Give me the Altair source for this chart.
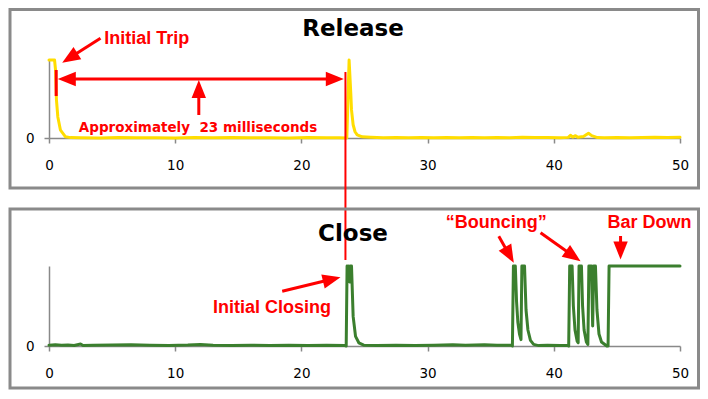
import altair as alt
import pandas as pd

# ---------------- data (time in ms, amplitude relative to the trace's full scale) -------------
release_points = [
    (0.00, 1.00), (0.44, 1.00), (0.52, 0.87), (0.59, 0.49), (0.70, 0.27), (0.91, 0.10),
    (1.31, 0.015), (1.70, 0.005), (2.5, 0.004), (4.0, 0.0), (5.5, 0.005), (7.0, 0.002),
    (8.5, 0.004), (10.0, 0.0), (11.5, 0.005), (13.0, 0.003), (14.5, 0.006), (16.0, 0.002),
    (17.5, 0.004), (19.0, 0.0), (20.5, 0.005), (22.0, 0.003), (23.0, 0.002), (23.60, 0.0),
    (23.78, 1.00), (23.92, 0.55), (23.97, 0.36), (24.10, 0.17), (24.25, 0.08), (24.42, 0.04),
    (24.82, 0.015), (25.5, 0.01), (26.5, 0.003), (27.5, 0.006), (28.5, 0.004), (29.5, 0.008),
    (30.5, 0.003), (31.5, 0.006), (32.5, 0.004), (33.5, 0.007), (34.5, 0.003), (35.5, 0.008),
    (36.5, 0.004), (37.5, 0.009), (38.5, 0.005), (39.5, 0.007), (40.5, 0.004), (41.15, 0.008),
    (41.32, 0.035), (41.50, 0.012), (41.72, 0.03), (41.90, 0.01), (42.35, 0.02), (42.75, 0.06),
    (43.00, 0.03), (43.46, 0.005), (44.0, 0.003), (45.0, 0.006), (46.0, 0.004), (47.0, 0.008),
    (48.0, 0.01), (49.0, 0.006), (50.0, 0.01),
]

close_points = [
    (0.0, 0.01), (0.5, 0.015), (1.0, 0.01), (1.5, 0.012), (2.0, 0.006), (2.5, 0.025),
    (2.7, 0.006), (3.5, 0.01), (5.0, 0.012), (6.5, 0.015), (8.0, 0.01), (9.5, 0.006),
    (11.0, 0.012), (12.0, 0.02), (13.0, 0.01), (14.5, 0.006), (16.0, 0.01), (17.5, 0.006),
    (19.0, 0.01), (20.5, 0.006), (22.0, 0.01), (23.45, 0.005),
    (23.55, 0.0), (23.62, 1.0), (23.70, 0.85), (23.76, 1.0), (23.82, 0.8), (23.88, 1.0),
    (23.97, 1.0), (24.10, 0.37), (24.29, 0.12), (24.55, 0.04), (24.94, 0.01),
    (26.0, 0.005), (27.5, 0.01), (29.0, 0.006), (30.5, 0.01), (32.0, 0.015), (33.0, 0.01),
    (34.5, 0.015), (35.5, 0.01), (36.6, 0.01),
    (36.72, 0.0), (36.80, 1.0), (36.95, 1.0), (37.05, 0.55), (37.15, 0.3), (37.28, 0.15),
    (37.40, 0.08), (37.47, 1.0), (37.68, 1.0), (37.80, 0.45), (37.95, 0.2), (38.15, 0.07),
    (38.40, 0.02), (38.8, 0.005), (39.5, 0.01), (40.5, 0.006), (41.1, 0.01),
    (41.18, 0.0), (41.26, 1.0), (41.45, 1.0), (41.55, 0.5), (41.68, 0.2), (41.85, 0.06),
    (41.93, 0.04), (42.00, 1.0), (42.19, 1.0), (42.28, 0.5), (42.40, 0.2), (42.58, 0.05),
    (42.70, 0.02), (42.78, 1.0), (42.98, 1.0), (43.08, 0.25), (43.16, 1.0), (43.30, 1.0),
    (43.42, 0.45), (43.58, 0.15), (43.78, 0.05), (44.20, 0.0), (44.30, 0.0), (44.38, 1.0),
    (50.0, 1.0),
]

x_ticks = [0, 10, 20, 30, 40, 50]
y_ticks = [0]

# titles (x in ms, y in trace units)
release_title = [("Release", 24.09, 1.3077)]
close_title = [("Close", 24.09, 1.31)]

# red annotation texts
release_notes = [("Initial Trip", 7.74, 1.2115)]
release_small_notes = [("Approximately\u00a0 23 milliseconds", 11.81, 0.083)]
close_notes = [("Initial Closing", 17.67, 0.415), ("\u201cBouncing\u201d", 35.44, 1.4775),
               ("Bar Down", 47.58, 1.4775)]

# arrow shafts (x, y, x2, y2) and heads (tip x, tip y, direction in degrees)
release_shafts = [(4.08, 1.278, 1.712, 1.035), (1.41, 0.756, 22.65, 0.756),
                  (11.87, 0.295, 11.87, 0.628), (0.57, 0.872, 0.57, 0.538)]
release_heads = [(1.046, 0.965, 237.5), (0.697, 0.756, 270), (23.36, 0.756, 90),
                 (11.87, 0.744, 0)]
marker_line = [(23.49, 0.846, 23.49, -1.564)]

close_shafts = [(18.48, 0.685, 22.40, 0.834), (35.64, 1.3725, 36.48, 1.1375),
                (38.95, 1.415, 41.54, 1.125), (45.29, 1.375, 45.29, 1.194)]
close_heads = [(23.10, 0.86, 76.5), (36.83, 1.04, 150.6), (42.12, 1.06, 125.4),
               (45.29, 1.081, 180)]

# ---------------- chart ----------------
RED = "#FF0000"
GRAY = "#898989"
W = 631
XS = alt.Scale(domain=[0, 50], nice=False, zero=False)
YS = alt.Scale(domain=[0, 1], nice=False, zero=False)

x_axis = alt.Axis(values=x_ticks, grid=False, title=None, domainColor=GRAY, domainWidth=1.5,
                  tickColor=GRAY, tickWidth=1.5, tickSize=5, labelFont="DejaVu Sans",
                  labelFontSize=13.5, labelColor="#000000", labelPadding=15, labelFlush=False)
y_axis = alt.Axis(values=y_ticks, grid=False, title=None, domainColor=GRAY, domainWidth=1.5,
                  tickColor=GRAY, tickWidth=1.5, tickSize=5, labelFont="DejaVu Sans",
                  labelFontSize=13.5, labelColor="#000000", labelPadding=10)


def xenc(field):
    return alt.X(f"{field}:Q", scale=XS, axis=x_axis)


def yenc(field):
    return alt.Y(f"{field}:Q", scale=YS, axis=y_axis)


def frame(y0, y1):
    return alt.Chart(alt.Data(values=[{"k": 1}])).mark_rect(
        filled=False, stroke="#8a8a8a", strokeWidth=3
    ).encode(x=alt.value(-39), x2=alt.value(649.5), y=alt.value(y0), y2=alt.value(y1))


def trace(points, color):
    df = pd.DataFrame(points, columns=["t", "v"])
    return alt.Chart(df).mark_line(color=color, strokeWidth=3, strokeJoin="round",
                                   strokeCap="round").encode(x=xenc("t"), y=yenc("v"))


def shafts(rows, width=3):
    df = pd.DataFrame(rows, columns=["t", "v", "t2", "v2"])
    return alt.Chart(df).mark_rule(color=RED, strokeWidth=width).encode(
        x=xenc("t"), y=yenc("v"), x2="t2:Q", y2="v2:Q")


def heads(rows):
    df = pd.DataFrame(rows, columns=["t", "v", "a"])
    return alt.Chart(df).mark_point(
        shape="M0,0L0.8,2L-0.8,2Z", filled=True, color=RED, opacity=1, size=324, strokeWidth=0
    ).encode(x=xenc("t"), y=yenc("v"), angle=alt.Angle("a:Q", scale=None))


def texts(rows, font, size, color):
    df = pd.DataFrame(rows, columns=["label", "t", "v"])
    return alt.Chart(df).mark_text(font=font, fontSize=size, fontWeight="bold", color=color,
                                   align="center", baseline="alphabetic").encode(
        x=xenc("t"), y=yenc("v"), text="label:N")


top = alt.layer(
    frame(-50.5, 128),
    trace(release_points, "#FFDD00"),
    texts(release_title, "DejaVu Sans", 23, "#000000"),
    texts(release_notes, "Liberation Sans", 18, RED),
    texts(release_small_notes, "DejaVu Sans", 13.5, RED),
    shafts(release_shafts),
    heads(release_heads),
    shafts(marker_line, 2),
).properties(width=W, height=78)

bottom = alt.layer(
    frame(-57, 122),
    trace(close_points, "#3B7F2E"),
    texts(close_title, "DejaVu Sans", 23, "#000000"),
    texts(close_notes, "Liberation Sans", 18, RED),
    shafts(close_shafts),
    heads(close_heads),
).properties(width=W, height=80)

chart = alt.vconcat(top, bottom, spacing=128, bounds="flush").properties(
    padding=0
).configure_view(stroke=None)

chart.save("out.html", embed_options={"renderer": "svg", "actions": False})
